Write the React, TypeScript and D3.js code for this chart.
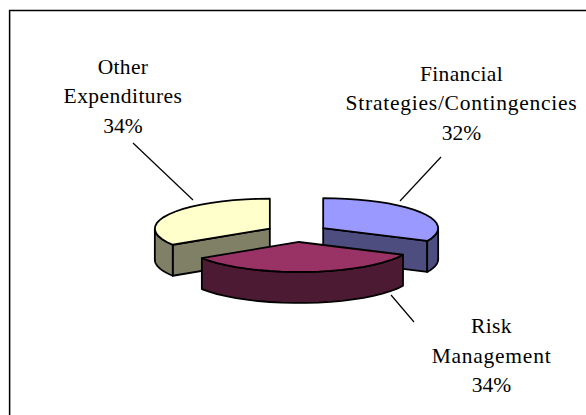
import React from "react";
import * as d3 from "d3";

const categories = ["Financial Strategies/Contingencies", "Risk Management", "Other Expenditures"];
const shares = [32, 34, 34];
const topColors = ["#9999FF", "#993366", "#FFFFCC"];
const sideColors = ["#4D4D80", "#4D1A33", "#808066"];
const labelLines = [
  ["Financial", "Strategies/Contingencies", "32%"],
  ["Risk", "Management", "34%"],
  ["Other", "Expenditures", "34%"],
];
const labelX = [461.5, 491.5, 123];
const labelY = [80.5, 333, 73.5];
const lineTracking = [0.35, 0.75, 0];
const leaders = [
  [[400, 201], [441, 157]],
  [[391, 295], [414, 322]],
  [[193, 200], [133, 143]],
];

const cx = 297, cy = 233, rx = 115, ry = 30, depth = 31, ex = 31, ey = 9;
const lineGen = d3.line<[number, number]>();
const pie = d3.pie<number>().sort(null)(shares);

function pt(c: [number, number], a: number, dy = 0): [number, number] {
  return [c[0] + rx * Math.sin(a), c[1] - ry * Math.cos(a) + dy];
}
function arcPts(c: [number, number], a0: number, a1: number, dy = 0) {
  const s = d3.scaleLinear().domain([0, 20]).range([a0, a1]);
  return d3.range(21).map((i) => pt(c, s(i), dy));
}
const st = { stroke: "#000", strokeWidth: 1.8, strokeLinejoin: "round" as const };

function Slice({ i }: { i: number }) {
  const d = pie[i];
  const a0 = d.startAngle, a1 = d.endAngle, mid = (a0 + a1) / 2;
  const c: [number, number] = [cx + ex * Math.sin(mid), cy - ey * Math.cos(mid)];
  const base: [number, number] = [c[0], c[1] + depth];
  const faces: [number, number][][] = [];
  const wall = (a: number): [number, number][] => {
    const p = pt(c, a);
    return [c, p, [p[0], p[1] + depth], base];
  };
  // radial walls that face the viewer
  if (i === 0) faces.push(wall(a1));
  if (i === 2) faces.push(wall(a0));
  // curved rim: only the front half (between 90 and 270 degrees) is visible
  const lo = Math.max(a0, Math.PI / 2), hi = Math.min(a1, (3 * Math.PI) / 2);
  if (hi > lo) faces.push([...arcPts(c, lo, hi), ...arcPts(c, hi, lo, depth)]);
  const top: [number, number][] = [c, ...arcPts(c, a0, a1)];
  return (
    <g>
      {faces.map((f, k) => (
        <path key={k} d={lineGen(f) + "Z"} fill={sideColors[i]} {...st} />
      ))}
      <path d={lineGen(top) + "Z"} fill={topColors[i]} {...st} />
    </g>
  );
}

export default function App() {
  return (
    <svg width={586} height={415} style={{ position: "absolute", left: 0, top: 0 }} fontFamily="'Liberation Serif', serif" fontSize={21.5}>
      <rect x={0} y={0} width={586} height={415} fill="#fff" />
      <path d="M10.5 11.5V415" fill="none" stroke="#bbb" strokeWidth={1} />
      <path d="M9.5 415V10.5H586" fill="none" stroke="#000" strokeWidth={1.3} />
      {[2, 0, 1].map((i) => <Slice key={categories[i]} i={i} />)}
      {leaders.map((l, i) => (
        <path key={i} d={lineGen(l as [number, number][]) ?? ""} stroke="#000" strokeWidth={1.2} fill="none" />
      ))}
      {labelLines.map((ls, i) => (
        <text key={i} textAnchor="middle" fill="#000">
          {ls.map((t, j) => (
            <tspan key={j} x={labelX[i]} y={labelY[i] + j * 29.7} letterSpacing={lineTracking[j] + (j === 1 && i === 2 ? -0.3 : 0)}>{t}</tspan>
          ))}
        </text>
      ))}
    </svg>
  );
}
